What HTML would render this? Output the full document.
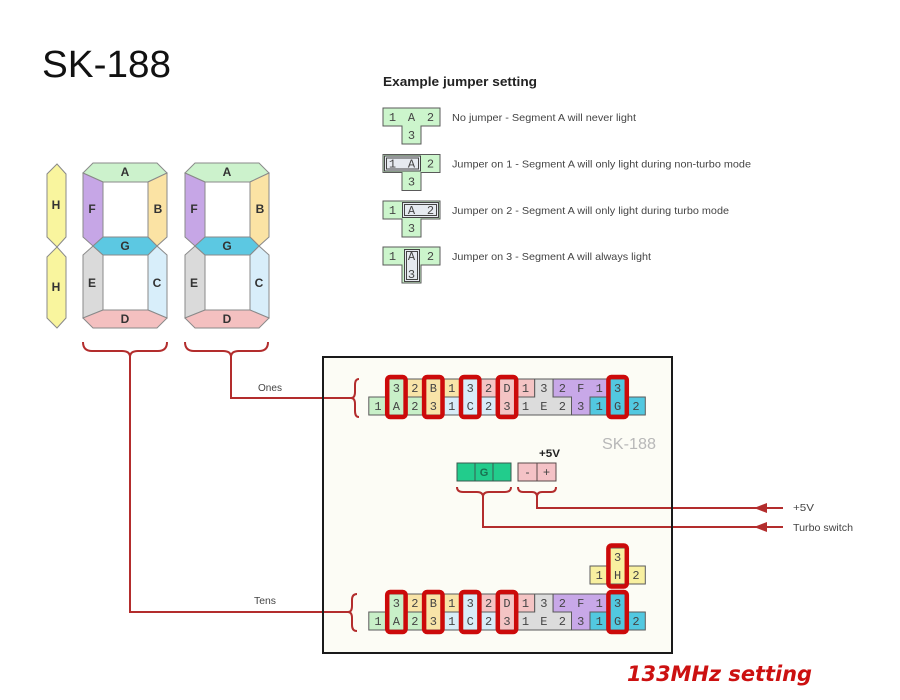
<!DOCTYPE html>
<html><head><meta charset="utf-8"><style>
html,body{margin:0;padding:0;background:#fff}
svg{display:block}
.mono{font-family:"Liberation Mono","DejaVu Sans Mono",monospace;font-size:12px;fill:#444;text-anchor:middle}
.seg{stroke:#8a8a8a;stroke-width:1}
.sl{font-family:"Liberation Sans",Arial,sans-serif;font-weight:bold;font-size:12px;fill:#333;text-anchor:middle}
.grp{stroke:#5a5a5a;stroke-width:1}
.rb{fill:none;stroke:#cc0a0a;stroke-width:4.5}
.ln{fill:none;stroke:#b32d2d;stroke-width:2}
.lbl{font-family:"Liberation Sans",Arial,sans-serif;font-size:10.5px;fill:#444}
</style></head><body>
<svg width="900" height="700" viewBox="0 0 900 700" xmlns="http://www.w3.org/2000/svg">
<rect width="900" height="700" fill="#fff"/>

<!-- Title -->
<text x="42" y="77" font-family="Liberation Sans, Arial, sans-serif" font-size="38" fill="#111" textLength="129" lengthAdjust="spacingAndGlyphs">SK-188</text>

<!-- H segments -->
<polygon class="seg" fill="#f9f59e" points="57,164 66,174 66,237 57,247 47,237 47,174"/>
<polygon class="seg" fill="#f9f59e" points="57,247 66,257 66,318 57,328 47,318 47,257"/>
<text class="sl" x="56" y="209">H</text>
<text class="sl" x="56" y="291">H</text>

<!-- Digit 1 -->
<g id="d1">
<polygon class="seg" fill="#ccf2cc" points="93,163 157,163 167,173 148,182 103,182 83,173"/>
<polygon class="seg" fill="#fbe3a4" points="167,173 167,237 157,246 148,237 148,182"/>
<polygon class="seg" fill="#c6a6e6" points="83,173 103,182 103,237 93,246 83,237"/>
<polygon class="seg" fill="#dadada" points="83,255 93,246 103,255 103,310 83,318"/>
<polygon class="seg" fill="#d8eefa" points="167,255 157,246 148,255 148,310 167,318"/>
<polygon class="seg" fill="#f4c0c0" points="103,310 148,310 167,318 157,328 93,328 83,318"/>
<polygon class="seg" fill="#5cc8e2" points="93,246 103,237 148,237 157,246 148,255 103,255"/>
<text class="sl" x="125" y="176">A</text>
<text class="sl" x="158" y="213">B</text>
<text class="sl" x="92" y="213">F</text>
<text class="sl" x="125" y="250">G</text>
<text class="sl" x="92" y="287">E</text>
<text class="sl" x="157" y="287">C</text>
<text class="sl" x="125" y="323">D</text>
</g>
<!-- Digit 2 -->
<g transform="translate(102,0)">
<polygon class="seg" fill="#ccf2cc" points="93,163 157,163 167,173 148,182 103,182 83,173"/>
<polygon class="seg" fill="#fbe3a4" points="167,173 167,237 157,246 148,237 148,182"/>
<polygon class="seg" fill="#c6a6e6" points="83,173 103,182 103,237 93,246 83,237"/>
<polygon class="seg" fill="#dadada" points="83,255 93,246 103,255 103,310 83,318"/>
<polygon class="seg" fill="#d8eefa" points="167,255 157,246 148,255 148,310 167,318"/>
<polygon class="seg" fill="#f4c0c0" points="103,310 148,310 167,318 157,328 93,328 83,318"/>
<polygon class="seg" fill="#5cc8e2" points="93,246 103,237 148,237 157,246 148,255 103,255"/>
<text class="sl" x="125" y="176">A</text>
<text class="sl" x="158" y="213">B</text>
<text class="sl" x="92" y="213">F</text>
<text class="sl" x="125" y="250">G</text>
<text class="sl" x="92" y="287">E</text>
<text class="sl" x="157" y="287">C</text>
<text class="sl" x="125" y="323">D</text>
</g>

<!-- Example jumper setting -->
<text x="383" y="86" font-family="Liberation Sans, Arial, sans-serif" font-weight="bold" font-size="13" fill="#222" textLength="154" lengthAdjust="spacingAndGlyphs">Example jumper setting</text>

<g>
<polygon class="grp" fill="#ccf5cc" points="383,108 440,108 440,126 421,126 421,144 402,144 402,126 383,126"/>
<text class="mono" x="392.5" y="121">1</text><text class="mono" x="411.5" y="121">A</text><text class="mono" x="430.5" y="121">2</text><text class="mono" x="411.5" y="139">3</text>
<text class="lbl" x="452" y="121" textLength="184" lengthAdjust="spacingAndGlyphs">No jumper - Segment A will never light</text>
</g>
<g transform="translate(0,46.5)">
<polygon class="grp" fill="#ccf5cc" points="383,108 440,108 440,126 421,126 421,144 402,144 402,126 383,126"/>
<rect x="384.5" y="109.5" width="36" height="15" fill="#e6eaf0" stroke="#444" stroke-width="1"/>
<rect x="386.5" y="111.5" width="32" height="11" fill="none" stroke="#444" stroke-width="1"/>
<text class="mono" x="392.5" y="121">1</text><text class="mono" x="411.5" y="121">A</text><text class="mono" x="430.5" y="121">2</text><text class="mono" x="411.5" y="139">3</text>
<text class="lbl" x="452" y="121" textLength="299" lengthAdjust="spacingAndGlyphs">Jumper on 1 - Segment A will only light during non-turbo mode</text>
</g>
<g transform="translate(0,93)">
<polygon class="grp" fill="#ccf5cc" points="383,108 440,108 440,126 421,126 421,144 402,144 402,126 383,126"/>
<rect x="402.5" y="109.5" width="36" height="15" fill="#e6eaf0" stroke="#444" stroke-width="1"/>
<rect x="404.5" y="111.5" width="32" height="11" fill="none" stroke="#444" stroke-width="1"/>
<text class="mono" x="392.5" y="121">1</text><text class="mono" x="411.5" y="121">A</text><text class="mono" x="430.5" y="121">2</text><text class="mono" x="411.5" y="139">3</text>
<text class="lbl" x="452" y="121" textLength="277" lengthAdjust="spacingAndGlyphs">Jumper on 2 - Segment A will only light during turbo mode</text>
</g>
<g transform="translate(0,139)">
<polygon class="grp" fill="#ccf5cc" points="383,108 440,108 440,126 421,126 421,144 402,144 402,126 383,126"/>
<rect x="404.5" y="110.5" width="15" height="32" fill="#e6eaf0" stroke="#444" stroke-width="1"/>
<rect x="406.5" y="112.5" width="11" height="28" fill="none" stroke="#444" stroke-width="1"/>
<text class="mono" x="392.5" y="121">1</text><text class="mono" x="411.5" y="121">A</text><text class="mono" x="430.5" y="121">2</text><text class="mono" x="411.5" y="139">3</text>
<text class="lbl" x="452" y="121" textLength="199" lengthAdjust="spacingAndGlyphs">Jumper on 3 - Segment A will always light</text>
</g>

<!-- Board fill -->
<rect x="323" y="357" width="349" height="296" fill="#fcfcf5"/>
<text x="602" y="449" font-family="Liberation Sans, Arial, sans-serif" font-size="16" fill="#b8b8b8" textLength="54" lengthAdjust="spacingAndGlyphs">SK-188</text>

<!-- Braces under digits and lines -->
<path class="ln" d="M83,342 Q83,351 92,351 L122,351 Q130,351 130,357 Q130,351 138,351 L158,351 Q167,351 167,342"/>
<path class="ln" d="M185,342 Q185,351 194,351 L223,351 Q231,351 231,357 Q231,351 239,351 L259,351 Q268,351 268,342"/>
<path class="ln" d="M130,357 L130,612 L349,612"/>
<path class="ln" d="M231,357 L231,398 L352,398"/>
<text class="lbl" x="258" y="391" font-size="10" textLength="24" lengthAdjust="spacingAndGlyphs">Ones</text>
<text class="lbl" x="254" y="604" font-size="10" textLength="22" lengthAdjust="spacingAndGlyphs">Tens</text>

<!-- connector braces -->
<path class="ln" d="M359,379 Q355,379 355,385 L355,392 Q355,398 351,398 Q355,398 355,404 L355,411 Q355,417 359,417"/>
<path class="ln" d="M357,594 Q352,594 352,600 L352,606 Q352,612 348,612 Q352,612 352,618 L352,625 Q352,631 357,631"/>

<!-- Top connector -->
<g id="conn">
<polygon class="grp" fill="#c8f0c8" points="387.2,379 405.7,379 405.7,397 424.1,397 424.1,415 368.8,415 368.8,397 387.2,397"/>
<polygon class="grp" fill="#f8e4a8" points="405.7,379 461,379 461,397 442.5,397 442.5,415 424.1,415 424.1,397 405.7,397"/>
<polygon class="grp" fill="#d8ecf8" points="461,379 479.4,379 479.4,397 497.8,397 497.8,415 442.5,415 442.5,397 461,397"/>
<polygon class="grp" fill="#f4c4c4" points="479.4,379 534.7,379 534.7,397 516.2,397 516.2,415 497.8,415 497.8,397 479.4,397"/>
<polygon class="grp" fill="#dcdcdc" points="534.7,379 553.1,379 553.1,397 571.5,397 571.5,415 516.2,415 516.2,397 534.7,397"/>
<polygon class="grp" fill="#c8a8e8" points="553.1,379 608.4,379 608.4,397 590,397 590,415 571.5,415 571.5,397 553.1,397"/>
<polygon class="grp" fill="#52c8e0" points="608.4,379 626.8,379 626.8,397 645.3,397 645.3,415 590,415 590,397 608.4,397"/>
<text class="mono" x="396.4" y="392">3</text>
<text class="mono" x="414.9" y="392">2</text>
<text class="mono" x="433.3" y="392">B</text>
<text class="mono" x="451.7" y="392">1</text>
<text class="mono" x="470.2" y="392">3</text>
<text class="mono" x="488.6" y="392">2</text>
<text class="mono" x="507" y="392">D</text>
<text class="mono" x="525.5" y="392">1</text>
<text class="mono" x="543.9" y="392">3</text>
<text class="mono" x="562.3" y="392">2</text>
<text class="mono" x="580.7" y="392">F</text>
<text class="mono" x="599.2" y="392">1</text>
<text class="mono" x="617.6" y="392">3</text>
<text class="mono" x="378" y="410">1</text>
<text class="mono" x="396.4" y="410">A</text>
<text class="mono" x="414.9" y="410">2</text>
<text class="mono" x="433.3" y="410">3</text>
<text class="mono" x="451.7" y="410">1</text>
<text class="mono" x="470.2" y="410">C</text>
<text class="mono" x="488.6" y="410">2</text>
<text class="mono" x="507" y="410">3</text>
<text class="mono" x="525.5" y="410">1</text>
<text class="mono" x="543.9" y="410">E</text>
<text class="mono" x="562.3" y="410">2</text>
<text class="mono" x="580.7" y="410">3</text>
<text class="mono" x="599.2" y="410">1</text>
<text class="mono" x="617.6" y="410">G</text>
<text class="mono" x="636" y="410">2</text>
<rect class="rb" x="387.2" y="377" width="18.4" height="40" rx="3"/>
<rect class="rb" x="424.1" y="377" width="18.4" height="40" rx="3"/>
<rect class="rb" x="461" y="377" width="18.4" height="40" rx="3"/>
<rect class="rb" x="497.8" y="377" width="18.4" height="40" rx="3"/>
<rect class="rb" x="608.4" y="377" width="18.4" height="40" rx="3"/>
</g>

<!-- Bottom connector -->
<g transform="translate(0,215)">
<polygon class="grp" fill="#c8f0c8" points="387.2,379 405.7,379 405.7,397 424.1,397 424.1,415 368.8,415 368.8,397 387.2,397"/>
<polygon class="grp" fill="#f8e4a8" points="405.7,379 461,379 461,397 442.5,397 442.5,415 424.1,415 424.1,397 405.7,397"/>
<polygon class="grp" fill="#d8ecf8" points="461,379 479.4,379 479.4,397 497.8,397 497.8,415 442.5,415 442.5,397 461,397"/>
<polygon class="grp" fill="#f4c4c4" points="479.4,379 534.7,379 534.7,397 516.2,397 516.2,415 497.8,415 497.8,397 479.4,397"/>
<polygon class="grp" fill="#dcdcdc" points="534.7,379 553.1,379 553.1,397 571.5,397 571.5,415 516.2,415 516.2,397 534.7,397"/>
<polygon class="grp" fill="#c8a8e8" points="553.1,379 608.4,379 608.4,397 590,397 590,415 571.5,415 571.5,397 553.1,397"/>
<polygon class="grp" fill="#52c8e0" points="608.4,379 626.8,379 626.8,397 645.3,397 645.3,415 590,415 590,397 608.4,397"/>
<text class="mono" x="396.4" y="392">3</text>
<text class="mono" x="414.9" y="392">2</text>
<text class="mono" x="433.3" y="392">B</text>
<text class="mono" x="451.7" y="392">1</text>
<text class="mono" x="470.2" y="392">3</text>
<text class="mono" x="488.6" y="392">2</text>
<text class="mono" x="507" y="392">D</text>
<text class="mono" x="525.5" y="392">1</text>
<text class="mono" x="543.9" y="392">3</text>
<text class="mono" x="562.3" y="392">2</text>
<text class="mono" x="580.7" y="392">F</text>
<text class="mono" x="599.2" y="392">1</text>
<text class="mono" x="617.6" y="392">3</text>
<text class="mono" x="378" y="410">1</text>
<text class="mono" x="396.4" y="410">A</text>
<text class="mono" x="414.9" y="410">2</text>
<text class="mono" x="433.3" y="410">3</text>
<text class="mono" x="451.7" y="410">1</text>
<text class="mono" x="470.2" y="410">C</text>
<text class="mono" x="488.6" y="410">2</text>
<text class="mono" x="507" y="410">3</text>
<text class="mono" x="525.5" y="410">1</text>
<text class="mono" x="543.9" y="410">E</text>
<text class="mono" x="562.3" y="410">2</text>
<text class="mono" x="580.7" y="410">3</text>
<text class="mono" x="599.2" y="410">1</text>
<text class="mono" x="617.6" y="410">G</text>
<text class="mono" x="636" y="410">2</text>
<rect class="rb" x="387.2" y="377" width="18.4" height="40" rx="3"/>
<rect class="rb" x="424.1" y="377" width="18.4" height="40" rx="3"/>
<rect class="rb" x="461" y="377" width="18.4" height="40" rx="3"/>
<rect class="rb" x="497.8" y="377" width="18.4" height="40" rx="3"/>
<rect class="rb" x="608.4" y="377" width="18.4" height="40" rx="3"/>
</g>

<!-- H jumper -->
<polygon class="grp" fill="#f8f0a0" points="608.4,548 626.8,548 626.8,566 645.3,566 645.3,584 590,584 590,566 608.4,566"/>
<text class="mono" x="617.6" y="561">3</text>
<text class="mono" x="599.2" y="579">1</text>
<text class="mono" x="617.6" y="579">H</text>
<text class="mono" x="636" y="579">2</text>
<rect class="rb" x="608.4" y="545.5" width="18.4" height="41" rx="3"/>

<!-- G and +5V connectors -->
<rect x="457" y="463" width="54" height="18" fill="#22cc8c" stroke="#3a5a50" stroke-width="1"/>
<line x1="475" y1="463" x2="475" y2="481" stroke="#3a5a50" stroke-width="1"/>
<line x1="493" y1="463" x2="493" y2="481" stroke="#3a5a50" stroke-width="1"/>
<text x="484" y="476" font-family="Liberation Sans, Arial, sans-serif" font-weight="bold" font-size="11" fill="#1a7050" text-anchor="middle">G</text>
<rect x="518" y="463" width="38" height="18" fill="#f4c2c6" stroke="#5a4a4a" stroke-width="1"/>
<line x1="537" y1="463" x2="537" y2="481" stroke="#5a4a4a" stroke-width="1"/>
<text x="527.5" y="476" font-family="Liberation Sans, Arial, sans-serif" font-size="12" fill="#444" text-anchor="middle">-</text>
<text x="546.5" y="476" font-family="Liberation Sans, Arial, sans-serif" font-size="12" fill="#444" text-anchor="middle">+</text>
<text x="539" y="457" font-family="Liberation Sans, Arial, sans-serif" font-weight="bold" font-size="11" fill="#222" textLength="21" lengthAdjust="spacingAndGlyphs">+5V</text>

<path class="ln" d="M457,487 Q457,492 463,492 L477,492 Q483,492 483,497 Q483,492 489,492 L505,492 Q511,492 511,487"/>
<path class="ln" d="M518,487 Q518,492 523,492 L532,492 Q537,492 537,497 Q537,492 542,492 L551,492 Q556,492 556,487"/>
<path class="ln" d="M537,497 L537,508 L783,508"/>
<path class="ln" d="M483,497 L483,527 L783,527"/>
<polygon fill="#b32d2d" points="754,508 767,503 767,513"/>
<polygon fill="#b32d2d" points="754,527 767,522 767,532"/>
<text class="lbl" x="793" y="511" textLength="21" lengthAdjust="spacingAndGlyphs">+5V</text>
<text class="lbl" x="793" y="531" textLength="60" lengthAdjust="spacingAndGlyphs">Turbo switch</text>

<!-- Board border on top -->
<rect x="323" y="357" width="349" height="296" fill="none" stroke="#1a1a1a" stroke-width="2"/>

<!-- Footer -->
<text x="627" y="681" font-family="DejaVu Sans, sans-serif" font-weight="bold" font-style="italic" font-size="21" fill="#cc1111" textLength="185" lengthAdjust="spacingAndGlyphs">133MHz setting</text>
</svg>
</body></html>
